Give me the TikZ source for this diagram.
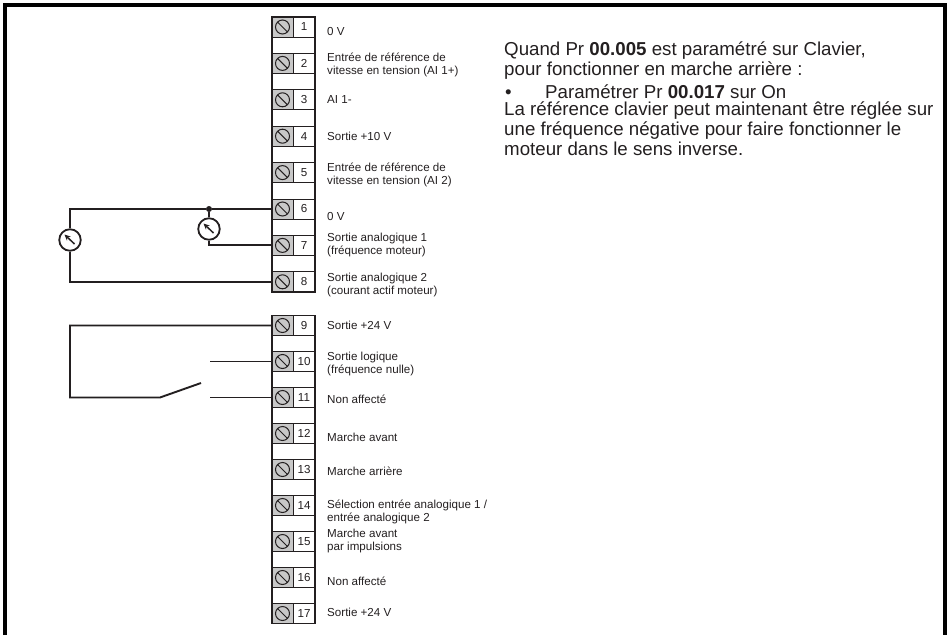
\documentclass[tikz,border=0pt]{standalone}
\usepackage{fontspec}
\setmainfont{Liberation Sans}
\usetikzlibrary{arrows.meta}
\definecolor{ink}{HTML}{231F20}
\definecolor{screwgrey}{HTML}{C8C8C8}
\begin{document}
\begin{tikzpicture}[x=1pt,y=-1pt,
  wire/.style={draw=ink,line width=1.9pt},
  screw/.style={draw=ink,line width=1pt,fill=screwgrey,minimum width=21pt,minimum height=20pt,inner sep=0pt,
    path picture={\draw[ink,line width=1pt,shift={(path picture bounding box.center)}] (0,0) circle (7pt) (-4.9pt,4.9pt) -- (4.9pt,-4.9pt);}},
  numcell/.style={draw=ink,line width=1pt,fill=white,minimum width=22pt,minimum height=20pt,inner sep=0pt,text=ink,font=\fontsize{11.6}{13}\selectfont},
  lab/.style={anchor=west,inner sep=0pt,align=left,text=ink,font=\fontsize{11.6}{13}\selectfont},
  txt/.style={anchor=base west,inner sep=0pt,text=ink,font=\fontsize{18.7}{20}\selectfont},
  meter/.style={circle,draw=ink,line width=1.8pt,fill=white,minimum size=21.5pt,inner sep=0pt,
    path picture={\draw[ink,line width=1.5pt,-{Stealth[length=6pt,width=5.5pt]}] ([shift={(4.5pt,-4pt)}]path picture bounding box.center) -- ([shift={(-5.5pt,5.5pt)}]path picture bounding box.center);}},
  dot/.style={circle,fill=ink,minimum size=6pt,inner sep=0pt}]
\useasboundingbox (0,0) rectangle (950,635);
\draw[black,line width=3.5pt] (5,635) -- (5,5) -- (945,5) -- (945,635);
\node[screw] (s1) at (282.5,27) {}; \node[numcell] (n1) at (304,27) {1};
\node[screw] (s2) at (282.5,63.4) {}; \node[numcell] (n2) at (304,63.4) {2};
\node[screw] (s3) at (282.5,99.8) {}; \node[numcell] (n3) at (304,99.8) {3};
\node[screw] (s4) at (282.5,136.2) {}; \node[numcell] (n4) at (304,136.2) {4};
\node[screw] (s5) at (282.5,172.6) {}; \node[numcell] (n5) at (304,172.6) {5};
\node[screw] (s6) at (282.5,209) {}; \node[numcell] (n6) at (304,209) {6};
\node[screw] (s7) at (282.5,245.4) {}; \node[numcell] (n7) at (304,245.4) {7};
\node[screw] (s8) at (282.5,281.8) {}; \node[numcell] (n8) at (304,281.8) {8};
\node[screw] (s9) at (282.5,325.5) {}; \node[numcell] (n9) at (304,325.5) {9};
\node[screw] (s10) at (282.5,361.5) {}; \node[numcell] (n10) at (304,361.5) {10};
\node[screw] (s11) at (282.5,397.5) {}; \node[numcell] (n11) at (304,397.5) {11};
\node[screw] (s12) at (282.5,433.5) {}; \node[numcell] (n12) at (304,433.5) {12};
\node[screw] (s13) at (282.5,469.5) {}; \node[numcell] (n13) at (304,469.5) {13};
\node[screw] (s14) at (282.5,505.5) {}; \node[numcell] (n14) at (304,505.5) {14};
\node[screw] (s15) at (282.5,541.5) {}; \node[numcell] (n15) at (304,541.5) {15};
\node[screw] (s16) at (282.5,577.5) {}; \node[numcell] (n16) at (304,577.5) {16};
\node[screw] (s17) at (282.5,613.5) {}; \node[numcell] (n17) at (304,613.5) {17};
\draw[ink,line width=1.9pt] (272,17) rectangle (315,291.8);
\draw[ink,line width=1.9pt] (272,315.5) rectangle (315,623.5);
\node[lab] (l1) at (327,32) {0 V};
\node[lab] (l2) at (327,64.5) {Entrée de référence de\\vitesse en tension (AI 1+)};
\node[lab] (l3) at (327,100) {AI 1-};
\node[lab] (l4) at (327,136) {Sortie +10 V};
\node[lab] (l5) at (327,175) {Entrée de référence de\\vitesse en tension (AI 2)};
\node[lab] (l6) at (327,217) {0 V};
\node[lab] (l7) at (327,245) {Sortie analogique 1\\(fréquence moteur)};
\node[lab] (l8) at (327,284.5) {Sortie analogique 2\\(courant actif moteur)};
\node[lab] (l9) at (327,325) {Sortie +24 V};
\node[lab] (l10) at (327,363.5) {Sortie logique\\(fréquence nulle)};
\node[lab] (l11) at (327,399) {Non affecté};
\node[lab] (l12) at (327,437) {Marche avant};
\node[lab] (l13) at (327,471) {Marche arrière};
\node[lab] (l14) at (327,512) {Sélection entrée analogique 1 /\\entrée analogique 2};
\node[lab] (l15) at (327,540.7) {Marche avant\\par impulsions};
\node[lab] (l16) at (327,581) {Non affecté};
\node[lab] (l17) at (327,612) {Sortie +24 V};
\node[meter] (m1) at (70,240) {};
\node[meter] (m2) at (209,229) {};
\node[dot] (j) at (209,209) {};
\draw[wire] (s6.west) -- (j) -- (j -| m1) -- (m1.north);
\draw[wire] (j) -- (m2.north);
\draw[wire] (m2.south) |- (s7.west);
\draw[wire] (m1.south) |- (s8.west);
\coordinate (k) at (160,397.5);
\coordinate (blade) at (201,383);
\coordinate (c10) at (210,361.5);
\coordinate (c11) at (210,397.5);
\draw[wire] (s9.west) -- (s9.west -| m1) |- (k) -- (blade);
\draw[wire] (c10) -- (s10.west);
\draw[wire] (c11) -- (s11.west);
\node[txt] (q1) at (504,55.5) {Quand Pr \textbf{00.005} est paramétré sur Clavier,};
\node[txt] (q2) at (504,75.5) {pour fonctionner en marche arrière :};
\node[txt] (b1) at (505,98) {•};
\node[txt] (q3) at (545,98) {Paramétrer Pr \textbf{00.017} sur On};
\node[txt] (q4) at (504,115.5) {La référence clavier peut maintenant être réglée sur};
\node[txt] (q5) at (504,135.5) {une fréquence négative pour faire fonctionner le};
\node[txt] (q6) at (504,155.5) {moteur dans le sens inverse.};
\end{tikzpicture}
\end{document}
